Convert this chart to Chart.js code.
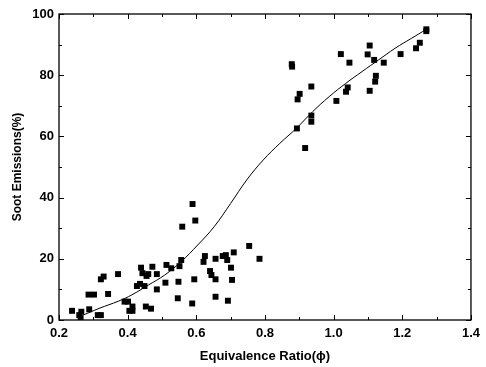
<!DOCTYPE html>
<html><head><meta charset="utf-8">
<script src="https://cdn.jsdelivr.net/npm/chart.js@4.4.1/dist/chart.umd.min.js"></script>
<style>html,body{margin:0;padding:0;background:#fff}#wrap{width:486px;height:367px;position:relative}</style>
</head><body><div id="wrap"><canvas id="c"></canvas></div>
<script>
const soaX = [0.238,0.259,0.263,0.265,0.286,0.302,0.288,0.313,0.322,0.322,0.330,0.343,0.372,0.391,0.401,0.405,0.414,0.414,0.427,0.436,0.439,0.443,0.449,0.453,0.455,0.460,0.468,0.472,0.485,0.485,0.510,0.513,0.527,0.546,0.548,0.551,0.556,0.559,0.588,0.589,0.594,0.597,0.621,0.625,0.640,0.644,0.656,0.656,0.656,0.677,0.686,0.690,0.692,0.701,0.704,0.709,0.754,0.784,0.878,0.879,0.895,0.901,0.893,0.917,0.935,0.935,0.935,1.008,1.021,1.036,1.041,1.046,1.099,1.105,1.105,1.118,1.121,1.123,1.146,1.195,1.240,1.251,1.270,1.270];
const sootY = [3.0,1.6,0.5,2.7,8.3,8.3,3.5,1.6,1.6,13.3,14.2,8.5,15.0,6.0,6.0,3.0,3.0,4.4,11.1,11.8,17.1,15.3,11.1,4.4,14.4,15.0,3.7,17.4,15.0,10.0,12.2,18.0,16.9,7.1,12.5,17.6,19.6,30.5,5.4,37.9,13.3,32.5,19.0,20.9,16.0,14.7,7.6,13.3,20.0,20.9,21.2,19.6,6.3,17.1,13.1,22.1,24.2,20.0,83.6,82.8,72.1,73.9,62.6,56.2,76.3,66.8,64.8,71.6,86.9,74.6,76.0,84.1,86.8,89.7,74.9,85.0,77.9,79.8,84.1,86.9,88.8,90.6,95.0,94.4];
const fitX = [0.264,0.317,0.374,0.412,0.460,0.508,0.556,0.604,0.652,0.700,0.747,0.795,0.843,0.891,0.939,0.987,1.035,1.083,1.131,1.179,1.226,1.270];
const fitY = [1.3,3.8,6.2,8.2,11.4,14.7,19.1,24.5,30.5,38.1,45.8,52.3,57.7,62.6,68.1,73.0,77.3,81.2,85.0,88.8,92.0,95.0];
const xTicks = [0.2,0.4,0.6,0.8,1.0,1.2,1.4];
const yTicks = [0,20,40,60,80,100];

const pts = soaX.map((x,i)=>({x:x,y:sootY[i]}));
const fit = fitX.map((x,i)=>({x:x,y:fitY[i]}));

const boxTicks = {
  id:'boxTicks',
  afterDraw(chart){
    const {ctx, chartArea:a, scales} = chart;
    ctx.save();
    ctx.strokeStyle='#000'; ctx.lineWidth=1.3;
    ctx.strokeRect(a.left, a.top, a.right-a.left, a.bottom-a.top);
    ctx.lineWidth=1;
    const xs=scales.x, ys=scales.y;
    for(let i=0;i<=12;i++){
      const v=0.2+i*0.1;
      const p=Math.round(xs.getPixelForValue(v))+0.5;
      const len = (i%2===0)?5:3;
      ctx.beginPath(); ctx.moveTo(p,a.bottom); ctx.lineTo(p,a.bottom-len);
      ctx.moveTo(p,a.top); ctx.lineTo(p,a.top+len); ctx.stroke();
    }
    for(let v=0; v<=100; v+=10){
      const p=Math.round(ys.getPixelForValue(v))+0.5;
      const len = (v%20===0)?5:3;
      ctx.beginPath(); ctx.moveTo(a.left,p); ctx.lineTo(a.left+len,p);
      ctx.moveTo(a.right,p); ctx.lineTo(a.right-len,p); ctx.stroke();
    }
    ctx.restore();
  }
};

new Chart(document.getElementById('c'), {
  type:'scatter',
  data:{datasets:[
    {label:'data', data:pts, pointStyle:'rect', pointRadius:4.2, pointHoverRadius:4.2, backgroundColor:'#000', borderColor:'#000', borderWidth:0, showLine:false},
    {label:'fit', data:fit, showLine:true, pointRadius:0, borderColor:'#000', borderWidth:1, tension:0.4, fill:false}
  ]},
  options:{
    responsive:true, maintainAspectRatio:false, animation:false,
    layout:{padding:{top:14,right:9,left:0,bottom:0}},
    plugins:{legend:{display:false}, tooltip:{enabled:false}},
    scales:{
      x:{type:'linear', min:0.2, max:1.4,
        afterBuildTicks(s){ s.ticks = xTicks.map(v=>({value:v})); },
        afterFit(s){ s.height=47; },
        grid:{display:false, drawTicks:false}, border:{display:false},
        ticks:{color:'#000', padding:6, font:{family:'Liberation Sans, Arial', size:13, weight:'bold'}, callback:v=>Number(v).toFixed(1), maxRotation:0, autoSkip:false},
        title:{display:true, text:'Equivalence Ratio(ϕ)', color:'#000', font:{family:'Liberation Sans, Arial', size:13, weight:'bold'}, padding:{top:0,bottom:3}}
      },
      y:{type:'linear', min:0, max:100,
        afterBuildTicks(s){ s.ticks = yTicks.map(v=>({value:v})); },
        afterFit(s){ s.width=59; },
        grid:{display:false, drawTicks:false}, border:{display:false},
        ticks:{color:'#000', padding:5, font:{family:'Liberation Sans, Arial', size:13, weight:'bold'}, autoSkip:false},
        title:{display:true, text:'Soot Emissions(%)', color:'#000', font:{family:'Liberation Sans, Arial', size:12, weight:'bold'}, padding:{top:10,bottom:0}}
      }
    }
  },
  plugins:[boxTicks]
});
</script></body></html>
